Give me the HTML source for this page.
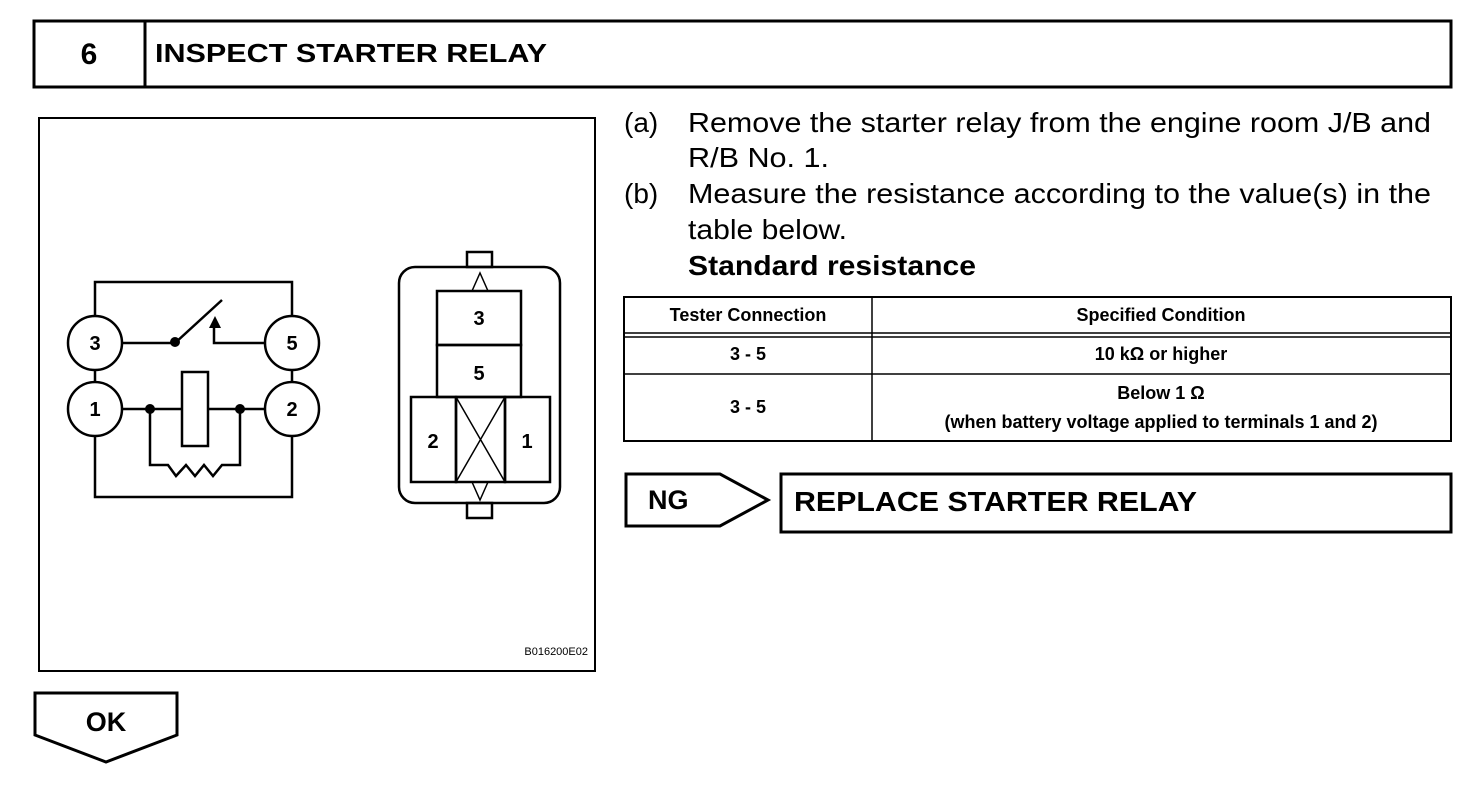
<!DOCTYPE html>
<html><head><style>body{margin:0;background:#fff}svg{display:block}</style></head><body>
<svg width="1472" height="792" xmlns="http://www.w3.org/2000/svg" font-family="Liberation Sans, sans-serif">
<g fill="none" stroke="#000">
<rect x="34" y="21" width="1417" height="66" stroke-width="3"/>
<line x1="145" y1="21" x2="145" y2="87" stroke-width="3"/>
<rect x="39" y="118" width="556" height="553" stroke-width="2"/>
<g stroke-width="2.5">
<path d="M95 316V282H292V316"/>
<path d="M95 370V382M292 370V382"/>
<path d="M95 436V497H292V436"/>
<path d="M122 343H175L222 300"/>
<path d="M265 343H214V326"/>
<path d="M122 409H182M208 409H265"/>
<rect x="182" y="372" width="26" height="74"/>
<path d="M150 409V465H168L176 476L186 465L195 476L204 465L213 476L222 465H240V409"/>
<circle cx="95" cy="343" r="27"/><circle cx="292" cy="343" r="27"/>
<circle cx="95" cy="409" r="27"/><circle cx="292" cy="409" r="27"/>
<rect x="399" y="267" width="161" height="236" rx="16"/>
<rect x="467" y="252" width="25" height="15"/><rect x="467" y="503" width="25" height="15"/>
<rect x="437" y="291" width="84" height="54"/><rect x="437" y="345" width="84" height="52"/>
<rect x="411" y="397" width="45" height="85"/><rect x="456" y="397" width="49" height="85"/><rect x="505" y="397" width="45" height="85"/>
</g>
<g stroke-width="1.5"><path d="M456 397L505 482M505 397L456 482"/><path d="M472 291L480 273L488 291M472 482L480 500L488 482"/></g>
<rect x="624" y="297" width="827" height="144" stroke-width="2"/>
<g stroke-width="1.5"><line x1="872" y1="297" x2="872" y2="441"/><line x1="624" y1="333" x2="1451" y2="333"/><line x1="624" y1="337" x2="1451" y2="337"/><line x1="624" y1="374" x2="1451" y2="374"/></g>
<path d="M626 474H720L768 500L720 526H626Z" stroke-width="3"/>
<rect x="781" y="474" width="670" height="58" stroke-width="3"/>
<path d="M35 693H177V735L106 762L35 735Z" stroke-width="3"/>
</g>
<g fill="#000">
<circle cx="175" cy="342" r="5"/><circle cx="150" cy="409" r="5"/><circle cx="240" cy="409" r="5"/>
<path d="M209 328L215 316L221 328Z"/>
<g font-weight="bold" font-size="20" text-anchor="middle">
<text x="95" y="350">3</text><text x="292" y="350">5</text><text x="95" y="416">1</text><text x="292" y="416">2</text>
<text x="479" y="325">3</text><text x="479" y="380">5</text><text x="433" y="448">2</text><text x="527" y="448">1</text>
</g>
<text x="588" y="655" font-size="11" text-anchor="end">B016200E02</text>
<text x="89" y="64" font-size="30" font-weight="bold" text-anchor="middle">6</text>
<text x="155" y="62" font-size="26" font-weight="bold" textLength="392" lengthAdjust="spacingAndGlyphs">INSPECT STARTER RELAY</text>
<g font-size="28">
<text x="624" y="132">(a)</text><text x="688" y="132" textLength="743" lengthAdjust="spacingAndGlyphs">Remove the starter relay from the engine room J/B and</text>
<text x="688" y="167" textLength="141" lengthAdjust="spacingAndGlyphs">R/B No. 1.</text>
<text x="624" y="203">(b)</text><text x="688" y="203" textLength="743" lengthAdjust="spacingAndGlyphs">Measure the resistance according to the value(s) in the</text>
<text x="688" y="239" textLength="159" lengthAdjust="spacingAndGlyphs">table below.</text>
<text x="688" y="275" font-weight="bold" textLength="288" lengthAdjust="spacingAndGlyphs">Standard resistance</text>
</g>
<g font-size="18" font-weight="bold" text-anchor="middle">
<text x="748" y="321">Tester Connection</text><text x="1161" y="321">Specified Condition</text>
<text x="748" y="360">3 - 5</text><text x="1161" y="360">10 kΩ or higher</text>
<text x="748" y="413">3 - 5</text><text x="1161" y="399">Below 1 Ω</text>
<text x="1161" y="428">(when battery voltage applied to terminals 1 and 2)</text>
</g>
<text x="648" y="509" font-size="27" font-weight="bold">NG</text>
<text x="794" y="511" font-size="28" font-weight="bold" textLength="403" lengthAdjust="spacingAndGlyphs">REPLACE STARTER RELAY</text>
<text x="106" y="731" font-size="27" font-weight="bold" text-anchor="middle">OK</text>
</g>
</svg>
</body></html>
